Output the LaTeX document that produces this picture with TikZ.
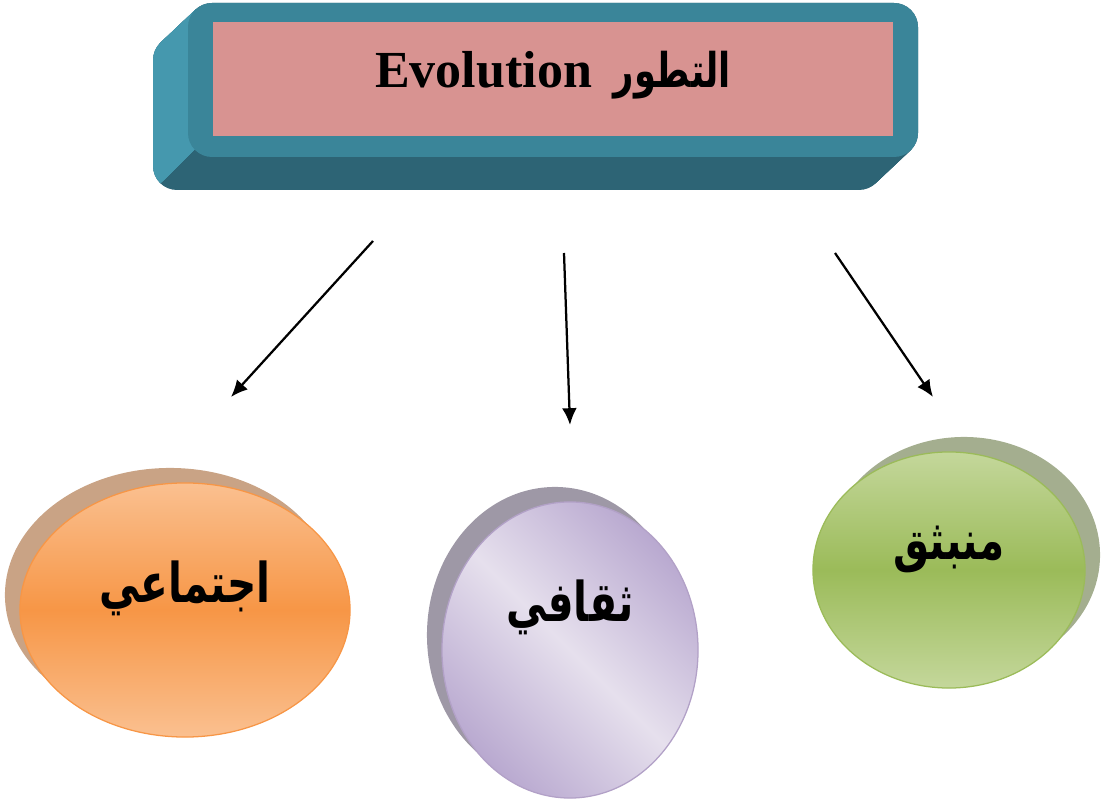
\documentclass[tikz,border=0pt]{standalone}
\usepackage{fontspec}
\setmainfont{Liberation Serif}
\newfontfamily\arabicfont[Script=Arabic, FakeStretch=0.74]{DejaVu Sans}
\TeXXeTstate=1
\usetikzlibrary{shapes.geometric, arrows.meta, shadows}

\definecolor{boxfront}{HTML}{3A8599}
\definecolor{boxside}{HTML}{4598AE}
\definecolor{boxbottom}{HTML}{2D6475}
\definecolor{titlepink}{HTML}{D89391}
\definecolor{orgLight}{HTML}{FAC090}
\definecolor{orgMid}{HTML}{F79646}
\definecolor{orgShadow}{HTML}{C9A385}
\definecolor{purLight}{HTML}{E6E0ED}
\definecolor{purDark}{HTML}{B9A9D0}
\definecolor{purEdge}{HTML}{B2A1C7}
\definecolor{purShadow}{HTML}{9E98A6}
\definecolor{grnLight}{HTML}{C4D79B}
\definecolor{grnMid}{HTML}{9BBB59}
\definecolor{grnShadow}{HTML}{A4AE8F}

\tikzstyle{titlebox} = [rectangle, minimum width=17cm, minimum height=2.85cm, fill=titlepink, text centered, text height=0.85cm, text depth=0.4cm, font=\fontsize{37}{40}\selectfont\bfseries]
\tikzstyle{blob} = [ellipse, line width=0.9pt, inner sep=0pt, text centered, text height=1cm, font=\arabicfont\bfseries\fontsize{39}{42}\selectfont]
\tikzstyle{orangeblob} = [blob, minimum width=8.25cm, minimum height=6.35cm, draw=orgMid, top color=orgLight, bottom color=orgLight, middle color=orgMid, general shadow={fill=orgShadow, shadow xshift=-0.375cm, shadow yshift=0.375cm}]
\tikzstyle{purpleblob} = [blob, minimum width=6.4cm, minimum height=7.4cm, draw=purEdge, top color=purDark, bottom color=purDark, middle color=purLight, shading angle=-45, general shadow={fill=purShadow, shadow xshift=-0.375cm, shadow yshift=0.375cm}]
\tikzstyle{greenblob} = [blob, minimum width=6.8cm, minimum height=5.9cm, draw=grnMid, top color=grnLight, bottom color=grnLight, middle color=grnMid, general shadow={fill=grnShadow, shadow xshift=0.375cm, shadow yshift=0.375cm}]
\tikzstyle{arrow} = [line width=1.6pt, ->, >={Latex[length=4.2mm, width=3.7mm]}]

\begin{document}
\begin{tikzpicture}[x=0.025cm, y=-0.025cm]
    \useasboundingbox (0,0) rectangle (1113,799);

    % extruded title block
    \foreach \k in {0,1,...,35}
        \fill[boxbottom, rounded corners=0.6cm, shift={(-\k,{0.943*\k})}] (188,3) rectangle (918,157);
    \begin{scope}
        \clip (100,-10) -- (196,-10) -- (196,148) -- (150,194) -- (100,194) -- cycle;
        \foreach \k in {0,1,...,35}
            \fill[boxside, rounded corners=0.6cm, shift={(-\k,{0.943*\k})}] (188,3) rectangle (918,157);
    \end{scope}
    \fill[boxfront, rounded corners=0.6cm] (188,3) rectangle (918,157);

    \node (title)    [titlebox]   at (553,79)  {Evolution\hspace{0.55cm}{\arabicfont\fontsize{34}{38}\selectfont\beginR التطور\endR}};

    \node (social)   [orangeblob, text depth=1.35cm] at (185,610) {\beginR اجتماعي\endR};
    \node (cultural) [purpleblob, text depth=2.4cm]  at (570,650) {\beginR ثقافي\endR};
    \node (emergent) [greenblob, text depth=1.5cm]   at (949,570) {\beginR منبثق\endR};

    \coordinate (socialtail)   at (373,241);
    \coordinate (socialtip)    at (231,397);
    \coordinate (culturaltail) at (564,253);
    \coordinate (culturaltip)  at (570,425);
    \coordinate (emergenttail) at (835,253);
    \coordinate (emergenttip)  at (933,397);

    \draw [arrow] (socialtail)   -- (socialtip);
    \draw [arrow] (culturaltail) -- (culturaltip);
    \draw [arrow] (emergenttail) -- (emergenttip);

\end{tikzpicture}
\end{document}
